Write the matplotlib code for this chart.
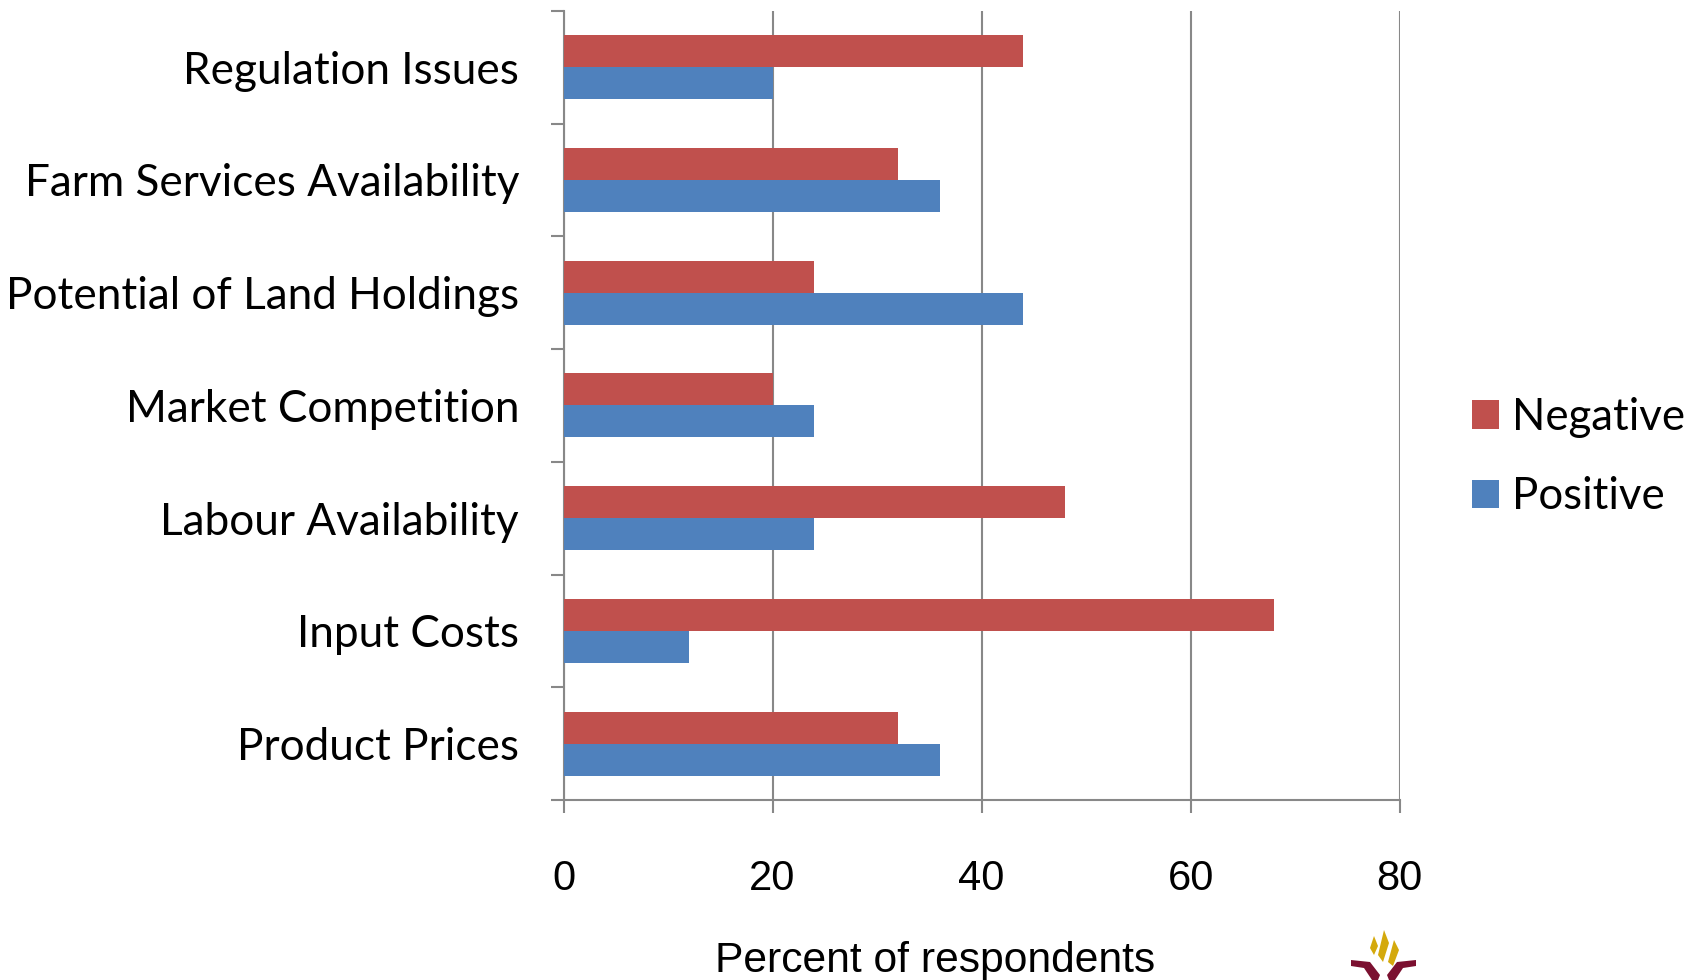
import matplotlib
matplotlib.use("Agg")
import matplotlib.pyplot as plt
from matplotlib.patches import Patch, Polygon
import numpy as np

categories = ["Regulation Issues", "Farm Services Availability", "Potential of Land Holdings",
              "Market Competition", "Labour Availability", "Input Costs", "Product Prices"]
negative = [44, 32, 24, 20, 48, 68, 32]
positive = [20, 36, 44, 24, 24, 12, 36]
xticks = [0, 20, 40, 60, 80]
series_names = ["Negative", "Positive"]
colors = ["#C0504D", "#4F81BD"]

W, H = 1696, 980
fig = plt.figure(figsize=(W / 100, H / 100), dpi=100)
ax = fig.add_axes([563.5 / W, 1 - 800 / H, (1399.7 - 563.5) / W, (800 - 10.8) / H])

y = np.arange(len(categories))
h = 0.283
ax.barh(y - h / 2, negative, height=h, color=colors[0], zorder=3)
ax.barh(y + h / 2, positive, height=h, color=colors[1], zorder=3)

ax.set_ylim(len(categories) - 0.5, -0.5)
ax.set_xlim(0, 80)

grid_c = "#888888"
ax.set_xticks(xticks)
ax.set_xticklabels([str(v) for v in xticks], fontfamily="Liberation Sans", fontsize=30)
ax.tick_params(axis="x", direction="out", length=9.5, width=1.5, color=grid_c, pad=33)
ax.grid(axis="x", color=grid_c, linewidth=1.5, zorder=0)

ax.set_yticks(np.arange(len(categories) + 1) - 0.5)
ax.set_yticklabels([])
ax.set_yticks(y, minor=True)
ax.set_yticklabels(categories, minor=True, fontfamily="Lato", fontsize=31.8)
ax.tick_params(axis="y", which="major", direction="out", length=9.5, width=1.5, color=grid_c)
ax.tick_params(axis="y", which="minor", length=0, pad=32)

for s in ["top", "right"]:
    ax.spines[s].set_visible(False)
for s in ["left", "bottom"]:
    ax.spines[s].set_color(grid_c)
    ax.spines[s].set_linewidth(1.5)

fig.text(935 / W, 1 - 961 / H, "Percent of respondents", fontfamily="Liberation Sans",
         fontsize=30.7, ha="center", va="center")

handles = [Patch(facecolor=c, edgecolor="none") for c in colors]
fig.legend(handles, series_names, loc="center left", bbox_to_anchor=(1472 / W, 1 - 457 / H),
           frameon=False, prop={"family": "Lato", "size": 31.5},
           handlelength=0.62, handleheight=0.62, handletextpad=0.3, labelspacing=0.88,
           borderaxespad=0, borderpad=0)

# small logo emblem (decoration) bottom right
def px(pts):
    return [(x / W, 1 - yy / H) for x, yy in pts]

yel = "#D4A90C"
mar = "#7B1030"
for poly in [
    [(1370, 948), (1374, 936), (1378, 946), (1374, 955)],
    [(1378, 955), (1384, 930), (1389, 943), (1383, 962)],
    [(1388, 962), (1394, 940), (1399, 950), (1393, 966)],
]:
    fig.add_artist(Polygon(px(poly), closed=True, facecolor=yel, edgecolor="none"))
for poly in [
    [(1351, 960), (1370, 962), (1380, 975), (1378, 980), (1372, 980), (1364, 968), (1351, 966)],
    [(1416, 960), (1397, 962), (1387, 975), (1389, 980), (1395, 980), (1403, 968), (1416, 966)],
]:
    fig.add_artist(Polygon(px(poly), closed=True, facecolor=mar, edgecolor="none"))

fig.savefig("out.png", dpi=100, facecolor="white")
